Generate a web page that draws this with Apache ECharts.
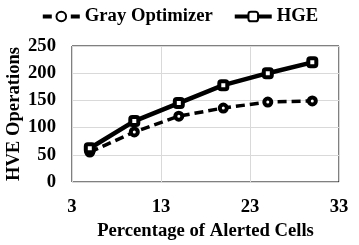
<!DOCTYPE html>
<html>
<head>
<meta charset="utf-8">
<script src="https://cdn.jsdelivr.net/npm/echarts@6/dist/echarts.min.js"></script>
<style>html,body{margin:0;padding:0;background:#fff}#c{width:359px;height:245px}</style>
</head>
<body>
<div id="c"></div>
<script>
var xValues = [5, 10, 15, 20, 25, 30];
var grayOptimizer = [55, 92, 121, 136, 147, 149];
var hge = [62, 112, 145, 178, 200, 220];
var seriesNames = ['Gray Optimizer', 'HGE'];
var xTitle = 'Percentage of Alerted Cells';
var yTitle = 'HVE Operations';

var font = 'Liberation Serif';
var chart = echarts.init(document.getElementById('c'));
function pairs(ys){ return xValues.map(function(x,i){return [x, ys[i]];}); }
chart.setOption({
  animation: false,
  backgroundColor: '#fff',
  legend: {
    top: 2, left: 'center', itemWidth: 37, itemHeight: 12, itemGap: 20,
    textStyle: {fontFamily: font, fontWeight: 'bold', fontSize: 18.67, color: '#000'},
    lineStyle: {width: 4},
    data: seriesNames
  },
  grid: {left: 72, right: 20, top: 46, bottom: 63, show: true, borderColor: '#000', borderWidth: 1,
         containLabel: false, outerBoundsMode: 'none'},
  xAxis: {
    type: 'value', min: 3, max: 33, interval: 10,
    name: xTitle, nameLocation: 'middle', nameGap: 34,
    nameTextStyle: {fontFamily: font, fontWeight: 'bold', fontSize: 18.67, color: '#000'},
    axisLine: {show: false}, axisTick: {show: false},
    axisLabel: {fontFamily: font, fontWeight: 'bold', fontSize: 18.67, color: '#000', margin: 16},
    splitLine: {show: true, lineStyle: {color: '#d9d9d9', width: 1}}
  },
  yAxis: {
    type: 'value', min: 0, max: 250, interval: 50,
    name: yTitle, nameLocation: 'middle', nameGap: 48, nameMoveOverlap: false,
    nameTextStyle: {fontFamily: font, fontWeight: 'bold', fontSize: 18.67, color: '#000'},
    axisLine: {show: false}, axisTick: {show: false},
    axisLabel: {fontFamily: font, fontWeight: 'bold', fontSize: 18.67, color: '#000', margin: 16},
    splitLine: {show: true, lineStyle: {color: '#d9d9d9', width: 1}}
  },
  series: [
    {
      name: seriesNames[0], type: 'line', data: pairs(grayOptimizer),
      symbol: 'circle', symbolSize: 7,
      lineStyle: {color: '#000', width: 3.5, type: [9, 5]},
      itemStyle: {color: '#fff', borderColor: '#000', borderWidth: 4}
    },
    {
      name: seriesNames[1], type: 'line', data: pairs(hge),
      symbol: 'roundRect', symbolSize: 8,
      lineStyle: {color: '#000', width: 4.5},
      itemStyle: {color: '#fff', borderColor: '#000', borderWidth: 4}
    }
  ]
});
</script>
</body>
</html>
